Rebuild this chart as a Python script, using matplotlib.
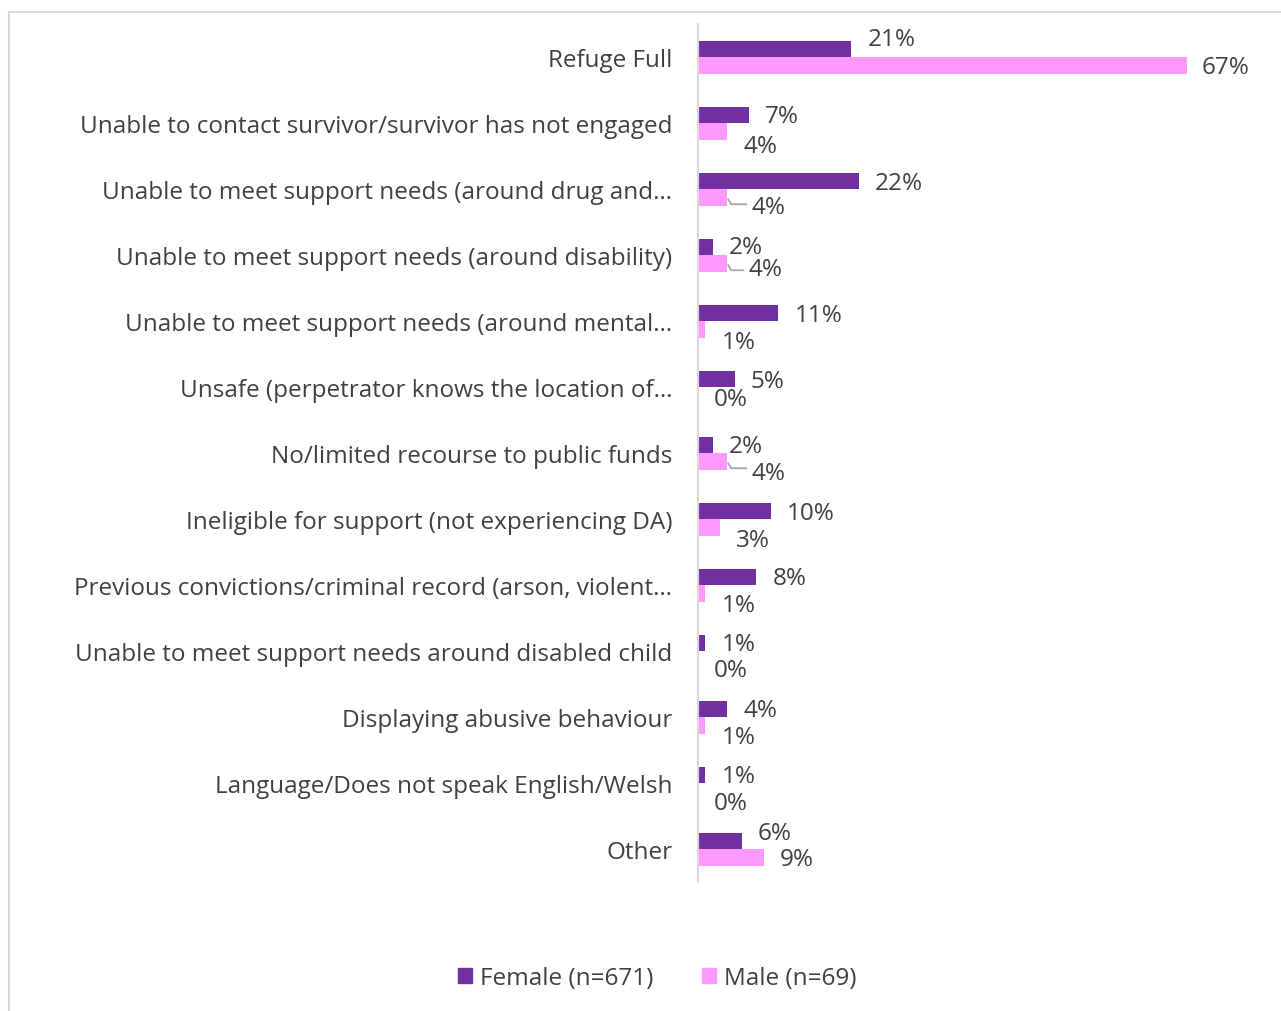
import numpy as np
import matplotlib.pyplot as plt
from matplotlib.lines import Line2D
from matplotlib.patches import Patch

categories = [
    "Refuge Full",
    "Unable to contact survivor/survivor has not engaged",
    "Unable to meet support needs (around drug and\u2026",
    "Unable to meet support needs (around disability)",
    "Unable to meet support needs (around mental\u2026",
    "Unsafe (perpetrator knows the location of\u2026",
    "No/limited recourse to public funds",
    "Ineligible for support (not experiencing DA)",
    "Previous convictions/criminal record (arson, violent\u2026",
    "Unable to meet support needs around disabled child",
    "Displaying abusive behaviour",
    "Language/Does not speak English/Welsh",
    "Other",
]
female = [21, 7, 22, 2, 11, 5, 2, 10, 8, 1, 4, 1, 6]
male = [67, 4, 4, 4, 1, 0, 4, 3, 1, 0, 1, 0, 9]

# label placement tweaks (pixels, image y points down), like Excel's auto layout
f_dy = [-18, -7, -6, -8, -6, -6, -7, -6, -7, -7, -7, -7, -16]
m_dy = [10, 23, 18, 14, 21, 12, 20, 21, 20, 19, 20, 20, 10]
m_dx = [15, 16, 24, 21, 16, 16, 24, 16, 16, 16, 16, 16, 16]
leader = [2, 3, 6]

FEMALE_C = "#7030A0"
MALE_C = "#FF99FF"
TXT = "#404040"
FS = 17.5

plt.rcParams['font.family'] = ['Open Sans', 'DejaVu Sans']

W, H = 1281, 1012
fig = plt.figure(figsize=(W / 100, H / 100), dpi=100)

# chart border (top and left edges visible)
fig.add_artist(Line2D([9 / W, 1.0], [1 - 13 / H, 1 - 13 / H], color="#D9D9D9", lw=1.5))
fig.add_artist(Line2D([9 / W, 9 / W], [1 - 13 / H, 0], color="#D9D9D9", lw=1.5))

ax_l, ax_r = 698, 1270
ax_t, ax_b = 25, 883
px_per_unit = 7.3
ax = fig.add_axes([ax_l / W, 1 - ax_b / H, (ax_r - ax_l) / W, (ax_b - ax_t) / H])

n = len(categories)
y = np.arange(n)
bh = 0.25
ax.barh(y - bh / 2, female, height=bh, color=FEMALE_C, label="Female (n=671)")
ax.barh(y + bh / 2, male, height=bh, color=MALE_C, label="Male (n=69)")

ax.set_ylim(n - 0.5, -0.5)
ax.set_xlim(0, (ax_r - ax_l) / px_per_unit)
ax.set_yticks(y)
ax.set_yticklabels(categories, fontsize=FS, color=TXT)
ax.tick_params(axis='y', length=0, pad=18.5)
ax.set_xticks([])
for s in ["top", "right", "bottom"]:
    ax.spines[s].set_visible(False)
ax.spines["left"].set_color("#D9D9D9")
ax.spines["left"].set_linewidth(1.5)

# pixel -> data conversion for leader lines
ux = 1 / px_per_unit
uy = n / (ax_b - ax_t)

for i in range(n):
    ax.annotate(f"{female[i]}%", xy=(female[i], i), xytext=(16, -f_dy[i]),
                textcoords="offset pixels", ha="left", va="center",
                fontsize=FS, color=TXT)
    ax.annotate(f"{male[i]}%", xy=(male[i], i), xytext=(m_dx[i], -m_dy[i]),
                textcoords="offset pixels", ha="left", va="center",
                fontsize=FS, color=TXT)
    if i in leader:
        yc = i + bh / 2
        xs = [male[i] + 1 * ux, male[i] + 4 * ux, male[i] + (m_dx[i] - 5) * ux]
        ys = [yc + 2 * uy, yc + 7 * uy, yc + 7 * uy]
        ax.plot(xs, ys, color="#A6A6A6", lw=1.3, clip_on=False)

handles = [Patch(color=FEMALE_C), Patch(color=MALE_C)]
fig.legend(handles, ["Female (n=671)", "Male (n=69)"], loc="center",
           bbox_to_anchor=(657 / W, 1 - 979 / H), ncol=2, frameon=False,
           fontsize=FS, labelcolor=TXT, handlelength=0.6, handleheight=0.6,
           handletextpad=0.3, columnspacing=2.0)

fig.savefig("out.png", dpi=100)
